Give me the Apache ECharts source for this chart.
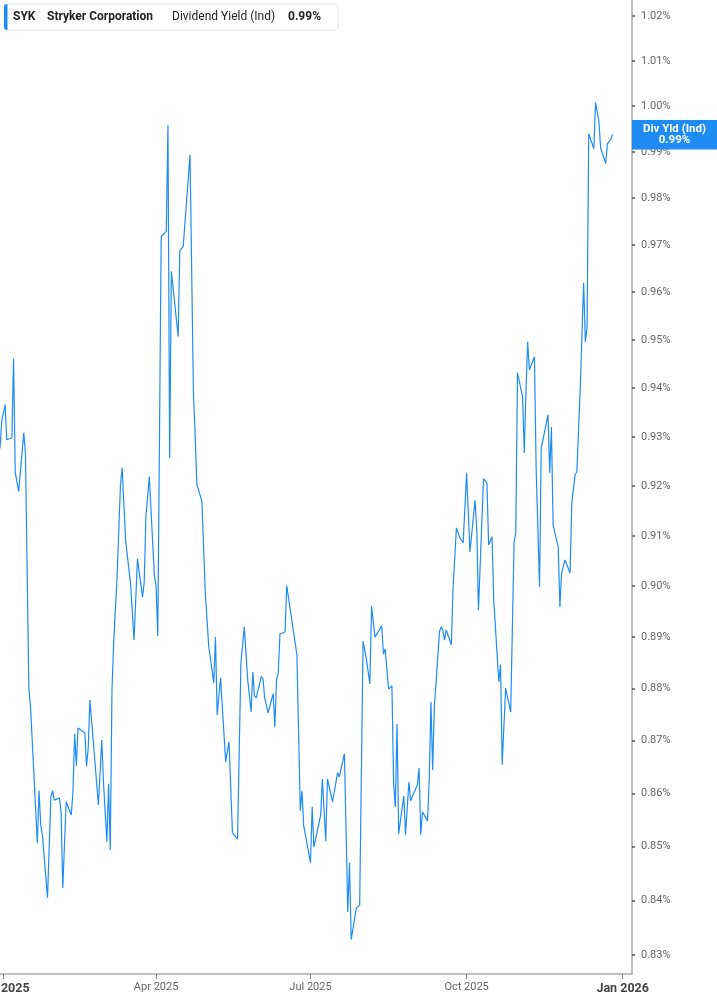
<!DOCTYPE html>
<html><head><meta charset="utf-8">
<script src="https://cdn.jsdelivr.net/npm/echarts@6/dist/echarts.min.js"></script>
<style>html,body{margin:0;padding:0;background:#fff}#c{width:717px;height:1005px}</style>
</head><body><div id="c"></div>
<script>
const ticker = 'SYK';
const company = 'Stryker Corporation';
const metric = 'Dividend Yield (Ind)';
const shortMetric = 'Div Yld (Ind)';

const dates = [
'2024-12-30','2024-12-31','2025-01-02','2025-01-03','2025-01-06','2025-01-07','2025-01-08','2025-01-10','2025-01-13','2025-01-14',
'2025-01-16','2025-01-17','2025-01-21','2025-01-22','2025-01-23','2025-01-24','2025-01-27','2025-01-29','2025-01-30','2025-01-31',
'2025-02-03','2025-02-04','2025-02-05','2025-02-07','2025-02-10','2025-02-11','2025-02-12','2025-02-13','2025-02-14','2025-02-18',
'2025-02-19','2025-02-20','2025-02-21','2025-02-23','2025-02-26','2025-02-28','2025-03-01','2025-03-03','2025-03-04','2025-03-05',
'2025-03-06','2025-03-07','2025-03-09','2025-03-11','2025-03-12','2025-03-13','2025-03-14','2025-03-17','2025-03-19','2025-03-21',
'2025-03-24','2025-03-25','2025-03-26','2025-03-27','2025-03-28','2025-03-31','2025-04-01','2025-04-02','2025-04-04','2025-04-07',
'2025-04-08','2025-04-09','2025-04-10','2025-04-14','2025-04-15','2025-04-17','2025-04-21','2025-04-23','2025-04-24','2025-04-25',
'2025-04-28','2025-04-30','2025-05-01','2025-05-02','2025-05-05','2025-05-06','2025-05-07','2025-05-09','2025-05-12','2025-05-14',
'2025-05-16','2025-05-19','2025-05-21','2025-05-23','2025-05-25','2025-05-27','2025-05-28','2025-05-29','2025-05-30','2025-06-02',
'2025-06-03','2025-06-04','2025-06-06','2025-06-09','2025-06-10','2025-06-11','2025-06-12','2025-06-13','2025-06-16','2025-06-17',
'2025-06-18','2025-06-23','2025-06-25','2025-06-26','2025-06-27','2025-07-01','2025-07-02','2025-07-03','2025-07-07','2025-07-08',
'2025-07-10','2025-07-11','2025-07-14','2025-07-15','2025-07-16','2025-07-17','2025-07-18','2025-07-21','2025-07-23','2025-07-24',
'2025-07-25','2025-07-28','2025-07-30','2025-08-01','2025-08-03','2025-08-05','2025-08-06','2025-08-08','2025-08-12','2025-08-13',
'2025-08-14','2025-08-16','2025-08-18','2025-08-19','2025-08-20','2025-08-21','2025-08-22','2025-08-25','2025-08-26','2025-08-28',
'2025-08-29','2025-09-02','2025-09-03','2025-09-04','2025-09-05','2025-09-08','2025-09-09','2025-09-10','2025-09-11','2025-09-12',
'2025-09-13','2025-09-15','2025-09-16','2025-09-17','2025-09-18','2025-09-19','2025-09-22','2025-09-23','2025-09-25','2025-09-27',
'2025-09-29','2025-09-30','2025-10-01','2025-10-03','2025-10-06','2025-10-07','2025-10-08','2025-10-11','2025-10-13','2025-10-14',
'2025-10-16','2025-10-17','2025-10-20','2025-10-21','2025-10-22','2025-10-24','2025-10-27','2025-10-29','2025-10-30','2025-10-31',
'2025-11-03','2025-11-04','2025-11-05','2025-11-06','2025-11-07','2025-11-10','2025-11-11','2025-11-12','2025-11-13','2025-11-14',
'2025-11-18','2025-11-19','2025-11-20','2025-11-21','2025-11-24','2025-11-25','2025-11-26','2025-11-28','2025-12-01','2025-12-02',
'2025-12-04','2025-12-05','2025-12-07','2025-12-09','2025-12-10','2025-12-11','2025-12-12','2025-12-15','2025-12-16','2025-12-18',
'2025-12-19','2025-12-22','2025-12-23','2025-12-25','2025-12-26'
];

const yields = [
0.9276,0.9331,0.9366,0.9294,0.9298,0.9461,0.9227,0.9189,0.9308,0.9267,
0.8801,0.8765,0.8507,0.8605,0.8541,0.8522,0.8405,0.8594,0.8605,0.8587,
0.8591,0.8565,0.8423,0.8584,0.8559,0.8603,0.8713,0.8652,0.8724,0.8715,
0.8651,0.8686,0.8778,0.8698,0.8578,0.8701,0.8620,0.8509,0.8618,0.8494,
0.8797,0.8889,0.9018,0.9202,0.9237,0.9239,0.9092,0.9003,0.8894,0.9054,
0.8979,0.9007,0.9138,0.9140,0.9219,0.9020,0.9001,0.8902,0.9718,0.9729,
0.9959,0.9257,0.9644,0.9507,0.9688,0.9697,0.9894,0.9390,0.9308,0.9204,
0.9169,0.8987,0.8984,0.8883,0.8811,0.8900,0.8749,0.8821,0.8660,0.8698,
0.8526,0.8514,0.8850,0.8920,0.8817,0.8755,0.8832,0.8786,0.8782,0.8823,
0.8819,0.8782,0.8753,0.8790,0.8726,0.8817,0.8830,0.8906,0.8910,0.9001,
0.9003,0.8865,0.8567,0.8604,0.8539,0.8470,0.8574,0.8499,0.8559,0.8627,
0.8510,0.8627,0.8584,0.8602,0.8599,0.8639,0.8631,0.8675,0.8379,0.8470,
0.8328,0.8386,0.8392,0.8892,0.8856,0.8809,0.8961,0.8900,0.8922,0.8867,
0.8877,0.8799,0.8805,0.8620,0.8574,0.8732,0.8524,0.8595,0.8522,0.8621,
0.8586,0.8616,0.8648,0.8522,0.8565,0.8548,0.8629,0.8774,0.8644,0.8765,
0.8811,0.8910,0.8920,0.8914,0.8894,0.8914,0.8885,0.8993,0.9116,0.9096,
0.9086,0.9086,0.9227,0.9068,0.9172,0.9112,0.8953,0.9215,0.9206,0.9082,
0.9098,0.8973,0.8813,0.8846,0.8654,0.8801,0.8755,0.9088,0.9106,0.9432,
0.9382,0.9267,0.9392,0.9496,0.9438,0.9465,0.9237,0.9116,0.8999,0.9277,
0.9345,0.9227,0.9320,0.9122,0.9078,0.8959,0.9026,0.9052,0.9026,0.9166,
0.9223,0.9229,0.9400,0.9620,0.9496,0.9525,0.9940,0.9907,1.0008,0.9966,
0.9909,0.9875,0.9918,0.9927,0.9938
];

const yTicks = [0.83,0.84,0.85,0.86,0.87,0.88,0.89,0.90,0.91,0.92,0.93,0.94,0.95,0.96,0.97,0.98,0.99,1.00,1.01,1.02];
const xTickDates = ['2025-01-01','2025-04-01','2025-07-01','2025-10-01','2026-01-01'];
const xTickLabels = ['Jan 2025','Apr 2025','Jul 2025','Oct 2025','Jan 2026'];
const xTickMajor = [true,false,false,false,true];

const LINE = '#1e8cf3';
const DAY = 86400000;
const EPOCH = Date.UTC(2025,0,1);
// day number relative to 1 Jan 2025
function dayNum(s){const p=s.split('-').map(Number);return Math.round((Date.UTC(p[0],p[1]-1,p[2])-EPOCH)/DAY);}
const xTickDays = xTickDates.map(dayNum);
const seriesData = dates.map((d,i)=>[dayNum(d), Math.log(yields[i])]);
const last = yields[yields.length-1];

const chart = echarts.init(document.getElementById('c'), null, {renderer:'canvas'});
chart.setOption({
  animation:false,
  backgroundColor:'#fff',
  textStyle:{fontFamily:'Roboto'},
  grid:{left:0,right:85,top:0,bottom:31,containLabel:false,outerBoundsMode:'none'},
  xAxis:{
    type:'value',
    min:-2,
    max:370.5,
    interval:0.5,
    splitLine:{show:false},
    axisLine:{show:true,onZero:false,lineStyle:{color:'#aaa',width:1.5}},
    axisTick:{show:true,length:5,customValues:xTickDays,lineStyle:{color:'#888',width:1}},
    axisLabel:{
      customValues:xTickDays,
      margin:8,
      hideOverlap:false,
      formatter:function(v){
        let bi=0,bd=Infinity;
        xTickDays.forEach((t,i)=>{const d=Math.abs(t-v);if(d<bd){bd=d;bi=i;}});
        return xTickMajor[bi] ? '{b|'+xTickLabels[bi]+'}' : '{n|'+xTickLabels[bi]+'}';
      },
      rich:{
        b:{fontFamily:'Roboto',fontWeight:'bold',fontSize:12.5,color:'#444'},
        n:{fontFamily:'Roboto',fontSize:11,color:'#666'}
      }
    }
  },
  yAxis:{
    type:'value',
    position:'right',
    min:Math.log(0.82655),
    max:Math.log(1.02359),
    splitLine:{show:false},
    axisLine:{show:true,onZero:false,lineStyle:{color:'#aaa',width:1.5}},
    axisTick:{show:true,length:3,customValues:yTicks.map(Math.log),lineStyle:{color:'#555',width:1.5}},
    axisLabel:{
      customValues:yTicks.map(Math.log),
      margin:9,
      fontFamily:'Roboto',fontSize:11,color:'#666',
      formatter:function(v){return Math.exp(v).toFixed(2)+'%';}
    }
  },
  series:[{
    type:'line',
    data:seriesData,
    showSymbol:false,
    symbol:'none',
    lineStyle:{color:LINE,width:1.2},
    emphasis:{disabled:true}
  }]
});

const yc = chart.convertToPixel({yAxisIndex:0}, Math.log(last));
chart.setOption({
  graphic:[
    {type:'rect',shape:{x:4,y:4,width:334,height:26,r:3},style:{fill:'#fff',stroke:'#e4e4e4',lineWidth:1},z:100},
    {type:'rect',shape:{x:4,y:4,width:3.5,height:26,r:[3,0,0,3]},style:{fill:LINE},z:101},
    {type:'text',x:13,y:17,style:{text:ticker,fontFamily:'Roboto',fontWeight:'bold',fontSize:12,fill:'#222',verticalAlign:'middle'},z:102},
    {type:'text',x:47,y:17,style:{text:company,fontFamily:'Roboto',fontWeight:'bold',fontSize:12,fill:'#222',verticalAlign:'middle'},z:102},
    {type:'text',x:172,y:17,style:{text:metric,fontFamily:'Roboto',fontSize:12,fill:'#222',verticalAlign:'middle'},z:102},
    {type:'text',x:288,y:17,style:{text:last.toFixed(2)+'%',fontFamily:'Roboto',fontWeight:'bold',fontSize:12,fill:'#222',verticalAlign:'middle'},z:102},
    {type:'rect',shape:{x:632,y:yc-14.5,width:85,height:29.5},style:{fill:LINE},z:100},
    {type:'text',x:674.5,y:yc-5.5,style:{text:shortMetric,fontFamily:'Roboto',fontWeight:'bold',fontSize:11.5,fill:'#fff',align:'center',verticalAlign:'middle'},z:102},
    {type:'text',x:674.5,y:yc+6,style:{text:last.toFixed(2)+'%',fontFamily:'Roboto',fontWeight:'bold',fontSize:11.5,fill:'#fff',align:'center',verticalAlign:'middle'},z:102}
  ]
});
</script>
</body></html>
